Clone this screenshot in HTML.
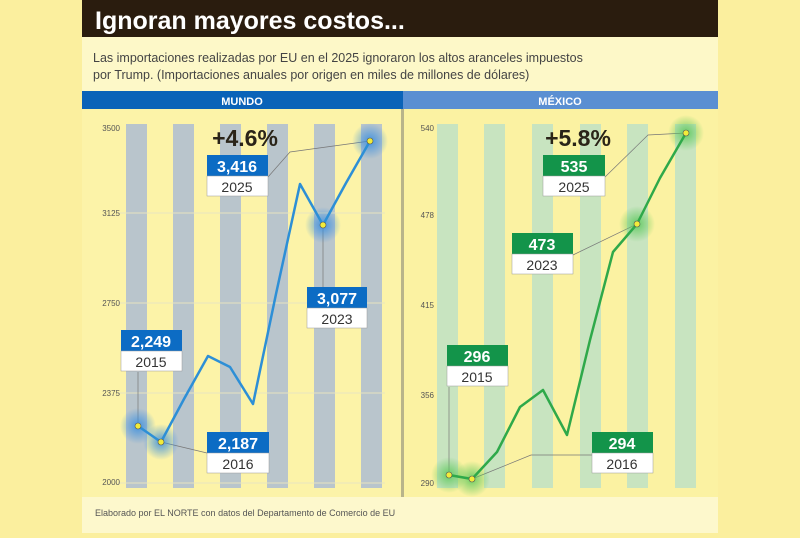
<!DOCTYPE html>
<html><head><meta charset="utf-8"><style>
body{margin:0;width:800px;height:533px;background:#fbef9e;overflow:hidden;font-family:"Liberation Sans",sans-serif}
</style></head><body>
<svg width="800" height="533" xmlns="http://www.w3.org/2000/svg" font-family="Liberation Sans, sans-serif">
<defs>
<radialGradient id="gb"><stop offset="0" stop-color="#3a8fe0" stop-opacity=".9"/><stop offset="1" stop-color="#3a8fe0" stop-opacity="0"/></radialGradient>
<radialGradient id="gg"><stop offset="0" stop-color="#5cc85c" stop-opacity=".9"/><stop offset="1" stop-color="#5cc85c" stop-opacity="0"/></radialGradient>
</defs>
<rect x="82" y="0" width="636" height="533" fill="#fdf8c8"/>
<rect x="82" y="0" width="636" height="37" fill="#2a1c0e"/>
<text x="95" y="29" font-size="25" font-weight="bold" fill="#fff">Ignoran mayores costos...</text>
<text x="93" y="62" font-size="12.5" fill="#444">Las importaciones realizadas por EU en el 2025 ignoraron los altos aranceles impuestos</text>
<text x="93" y="79" font-size="12.5" fill="#444">por Trump. (Importaciones anuales por origen en miles de millones de dólares)</text>
<rect x="82" y="91" width="321" height="18" fill="#0a63b8"/>
<rect x="403" y="91" width="315" height="18" fill="#5a8fd2"/>
<text x="242" y="105" font-size="11" font-weight="bold" fill="#fff" text-anchor="middle">MUNDO</text>
<text x="560" y="105" font-size="11" font-weight="bold" fill="#fff" text-anchor="middle">MÉXICO</text>
<rect x="82" y="109" width="321" height="388" fill="#fcf3a8"/>
<rect x="404" y="109" width="314" height="388" fill="#fbf2a2"/>
<rect x="401" y="109" width="3" height="388" fill="#b8b48a"/>
<g fill="#b9c5cc">
<rect x="126" y="124" width="21" height="364"/><rect x="173" y="124" width="21" height="364"/><rect x="220" y="124" width="21" height="364"/><rect x="267" y="124" width="21" height="364"/><rect x="314" y="124" width="21" height="364"/><rect x="361" y="124" width="21" height="364"/>
</g>
<g stroke="#e8e4c0" stroke-width="1"><line x1="118" y1="213" x2="385" y2="213"/><line x1="118" y1="303" x2="385" y2="303"/><line x1="118" y1="393" x2="385" y2="393"/><line x1="118" y1="483" x2="385" y2="483"/></g>
<g font-size="8" fill="#555" text-anchor="end"><text x="120" y="131">3500</text><text x="120" y="216">3125</text><text x="120" y="306">2750</text><text x="120" y="396">2375</text><text x="120" y="485">2000</text></g>
<g fill="#c8e4c0">
<rect x="437" y="124" width="21" height="364"/><rect x="484" y="124" width="21" height="364"/><rect x="532" y="124" width="21" height="364"/><rect x="580" y="124" width="21" height="364"/><rect x="627" y="124" width="21" height="364"/><rect x="675" y="124" width="21" height="364"/>
</g>
<g font-size="8" fill="#555" text-anchor="end"><text x="434" y="131">540</text><text x="434" y="218">478</text><text x="434" y="308">415</text><text x="434" y="398">356</text><text x="434" y="486">290</text></g>
<g stroke="#777" stroke-width=".7" fill="none">
<polyline points="138,426 138,372"/><polyline points="161,442 207,453"/><polyline points="323,225 323,287"/><polyline points="268,177 290,152 370,141"/>
<polyline points="449,475 449,387"/><polyline points="472,479 531,455 592,455"/><polyline points="573,255 637,224"/><polyline points="605,177 648,135 686,133"/>
</g>
<circle cx="138" cy="426" r="18" fill="url(#gb)"/><circle cx="161" cy="442" r="18" fill="url(#gb)"/><circle cx="323" cy="225" r="18" fill="url(#gb)"/><circle cx="370" cy="141" r="18" fill="url(#gb)"/>
<circle cx="449" cy="475" r="18" fill="url(#gg)"/><circle cx="472" cy="479" r="18" fill="url(#gg)"/><circle cx="637" cy="224" r="18" fill="url(#gg)"/><circle cx="686" cy="133" r="18" fill="url(#gg)"/>
<polyline points="138,426 161,442 184,399 208,356 230,367 253,404 276,294 300,184 323,225 346,183 370,141" fill="none" stroke="#2d8fd6" stroke-width="2.5" stroke-linejoin="round"/>
<polyline points="449,475 472,479 497,452 520,407 543,390 567,435 590,340 613,252 637,224 660,178 686,133" fill="none" stroke="#2fa94a" stroke-width="2.5" stroke-linejoin="round"/>
<g fill="#f2ec3a" stroke="#555" stroke-width=".6">
<circle cx="138" cy="426" r="3"/><circle cx="161" cy="442" r="3"/><circle cx="323" cy="225" r="3"/><circle cx="370" cy="141" r="3"/>
<circle cx="449" cy="475" r="3"/><circle cx="472" cy="479" r="3"/><circle cx="637" cy="224" r="3"/><circle cx="686" cy="133" r="3"/>
</g>
<g font-size="16" font-weight="bold" text-anchor="middle">
<g><rect x="121" y="330" width="61" height="21" fill="#0c6cc4"/><text x="151" y="347" fill="#fff">2,249</text><rect x="121" y="351" width="61" height="20" fill="#fff" stroke="#999" stroke-width=".5"/><text x="151" y="367" fill="#333" font-weight="normal" font-size="14">2015</text></g>
<g><rect x="207" y="432" width="62" height="21" fill="#0c6cc4"/><text x="238" y="449" fill="#fff">2,187</text><rect x="207" y="453" width="62" height="20" fill="#fff" stroke="#999" stroke-width=".5"/><text x="238" y="469" fill="#333" font-weight="normal" font-size="14">2016</text></g>
<g><rect x="307" y="287" width="60" height="21" fill="#0c6cc4"/><text x="337" y="304" fill="#fff">3,077</text><rect x="307" y="308" width="60" height="20" fill="#fff" stroke="#999" stroke-width=".5"/><text x="337" y="324" fill="#333" font-weight="normal" font-size="14">2023</text></g>
<g><rect x="207" y="155" width="61" height="21" fill="#0c6cc4"/><text x="237" y="172" fill="#fff">3,416</text><rect x="207" y="176" width="61" height="20" fill="#fff" stroke="#999" stroke-width=".5"/><text x="237" y="192" fill="#333" font-weight="normal" font-size="14">2025</text></g>
<g><rect x="447" y="345" width="61" height="21" fill="#13944a"/><text x="477" y="362" fill="#fff">296</text><rect x="447" y="366" width="61" height="20" fill="#fff" stroke="#999" stroke-width=".5"/><text x="477" y="382" fill="#333" font-weight="normal" font-size="14">2015</text></g>
<g><rect x="592" y="432" width="61" height="21" fill="#13944a"/><text x="622" y="449" fill="#fff">294</text><rect x="592" y="453" width="61" height="20" fill="#fff" stroke="#999" stroke-width=".5"/><text x="622" y="469" fill="#333" font-weight="normal" font-size="14">2016</text></g>
<g><rect x="512" y="233" width="61" height="21" fill="#13944a"/><text x="542" y="250" fill="#fff">473</text><rect x="512" y="254" width="61" height="20" fill="#fff" stroke="#999" stroke-width=".5"/><text x="542" y="270" fill="#333" font-weight="normal" font-size="14">2023</text></g>
<g><rect x="543" y="155" width="62" height="21" fill="#13944a"/><text x="574" y="172" fill="#fff">535</text><rect x="543" y="176" width="62" height="20" fill="#fff" stroke="#999" stroke-width=".5"/><text x="574" y="192" fill="#333" font-weight="normal" font-size="14">2025</text></g>
</g>
<text x="245" y="146" font-size="23" font-weight="bold" fill="#2a2418" text-anchor="middle">+4.6%</text>
<text x="578" y="146" font-size="23" font-weight="bold" fill="#2a2418" text-anchor="middle">+5.8%</text>
<rect x="82" y="497" width="636" height="36" fill="#fdf8cc"/>
<text x="95" y="516" font-size="9" fill="#555">Elaborado por EL NORTE con datos del Departamento de Comercio de EU</text>
</svg>
</body></html>
